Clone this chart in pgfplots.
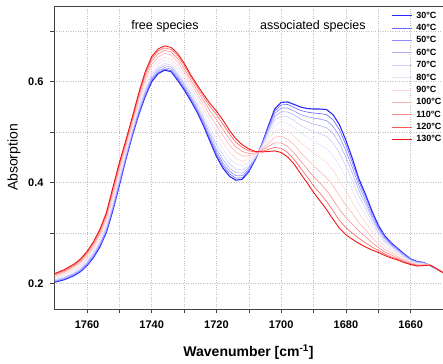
\documentclass[border=0pt]{standalone}
\usepackage{fontspec}
\setmainfont{Liberation Sans}
\usepackage{pgfplots}
\pgfplotsset{compat=1.18}
\usepackage{pgfplotstable}

\definecolor{cA}{RGB}{40,40,255}
\definecolor{cB}{RGB}{100,100,255}
\definecolor{cC}{RGB}{140,140,255}
\definecolor{cD}{RGB}{175,175,255}
\definecolor{cE}{RGB}{205,205,255}
\definecolor{cF}{RGB}{228,228,252}
\definecolor{cG}{RGB}{255,215,215}
\definecolor{cH}{RGB}{255,180,180}
\definecolor{cI}{RGB}{255,140,140}
\definecolor{cJ}{RGB}{255,90,90}
\definecolor{cK}{RGB}{240,20,20}

\pgfplotstableread{
x    t30  t40  t50  t60  t70  t80  t90  t100 t110 t120 t130
1770 .203 .204 .205 .206 .208 .210 .212 .215 .217 .219 .220
1767 .208 .209 .210 .212 .213 .216 .219 .222 .224 .226 .228
1764 .216 .217 .219 .220 .222 .225 .228 .232 .235 .237 .239
1762 .224 .225 .227 .228 .231 .234 .237 .241 .244 .247 .249
1760 .236 .237 .239 .241 .244 .247 .251 .255 .259 .262 .264
1758 .252 .254 .255 .258 .260 .264 .268 .273 .277 .281 .283
1756 .273 .275 .277 .279 .282 .287 .292 .297 .301 .305 .308
1754 .302 .304 .306 .309 .313 .317 .323 .329 .334 .338 .341
1752 .345 .347 .350 .353 .357 .363 .369 .376 .382 .387 .391
1750 .395 .397 .400 .403 .407 .413 .419 .426 .431 .436 .440
1748 .446 .448 .450 .453 .456 .461 .466 .472 .477 .481 .484
1746 .493 .495 .497 .500 .503 .507 .513 .518 .523 .527 .530
1744 .535 .537 .540 .543 .547 .552 .558 .564 .570 .575 .578
1742 .571 .573 .576 .580 .584 .590 .597 .604 .611 .616 .620
1740 .600 .603 .606 .609 .614 .620 .627 .634 .641 .646 .650
1738 .616 .618 .621 .625 .629 .635 .642 .649 .656 .661 .665
1736 .623 .625 .628 .632 .636 .642 .648 .656 .662 .667 .671
1734 .620 .622 .625 .629 .633 .639 .645 .653 .659 .664 .668
1732 .603 .606 .609 .613 .617 .624 .631 .639 .646 .652 .656
1730 .584 .587 .590 .594 .598 .605 .612 .620 .627 .633 .637
1728 .563 .566 .569 .572 .577 .583 .590 .598 .604 .610 .614
1726 .540 .543 .546 .550 .555 .561 .569 .577 .584 .590 .594
1724 .513 .516 .520 .524 .530 .537 .546 .555 .563 .570 .575
1722 .482 .486 .490 .496 .502 .511 .522 .533 .543 .551 .557
1720 .452 .457 .462 .468 .476 .487 .500 .513 .525 .535 .542
1718 .429 .434 .439 .446 .455 .466 .479 .494 .506 .516 .524
1716 .413 .418 .423 .429 .438 .448 .461 .475 .487 .497 .504
1714 .405 .409 .414 .420 .427 .437 .448 .461 .471 .480 .487
1712 .407 .410 .414 .419 .425 .434 .443 .453 .462 .470 .475
1710 .422 .424 .427 .430 .434 .440 .446 .453 .458 .463 .467
1708 .446 .447 .448 .449 .450 .452 .454 .457 .459 .461 .462
1706 .476 .475 .474 .473 .472 .470 .468 .466 .464 .462 .461
1704 .512 .510 .507 .503 .499 .493 .486 .478 .472 .466 .462
1702 .546 .542 .537 .531 .524 .514 .502 .490 .479 .470 .463
1700 .559 .554 .548 .541 .532 .520 .507 .492 .479 .468 .460
1698 .560 .555 .548 .540 .531 .517 .502 .486 .472 .460 .451
1696 .555 .549 .542 .534 .523 .509 .492 .475 .459 .446 .437
1694 .550 .543 .535 .526 .514 .499 .480 .460 .443 .429 .418
1692 .547 .540 .531 .521 .507 .490 .469 .447 .428 .412 .400
1690 .546 .538 .528 .516 .501 .482 .459 .434 .412 .394 .381
1688 .546 .537 .526 .513 .497 .475 .450 .422 .399 .379 .364
1686 .545 .535 .523 .509 .492 .468 .440 .410 .385 .363 .347
1684 .535 .525 .512 .498 .479 .454 .425 .394 .367 .345 .328
1682 .515 .505 .492 .478 .459 .434 .405 .374 .347 .325 .310
1680 .484 .475 .463 .450 .433 .410 .383 .355 .331 .311 .297
1678 .448 .440 .430 .419 .404 .385 .362 .339 .318 .300 .288
1676 .408 .402 .394 .385 .373 .358 .340 .321 .305 .290 .280
1674 .378 .373 .366 .359 .350 .337 .322 .307 .293 .281 .273
1672 .345 .341 .336 .331 .324 .315 .304 .292 .282 .273 .267
1670 .316 .313 .310 .306 .301 .295 .287 .279 .272 .266 .262
1668 .295 .293 .291 .288 .284 .280 .274 .268 .263 .259 .256
1666 .281 .280 .278 .276 .273 .269 .265 .261 .257 .253 .251
1664 .270 .269 .267 .266 .264 .261 .258 .254 .251 .249 .247
1662 .259 .258 .257 .256 .254 .252 .250 .247 .245 .243 .242
1660 .249 .248 .248 .247 .246 .245 .243 .242 .240 .239 .238
1658 .244 .244 .243 .242 .242 .240 .239 .238 .237 .236 .235
1656 .242 .242 .241 .241 .240 .240 .239 .238 .237 .236 .236
1654 .236 .236 .236 .236 .236 .237 .237 .237 .237 .237 .237
1652 .229 .229 .229 .229 .229 .229 .230 .230 .230 .230 .230
1650 .222 .222 .222 .222 .222 .222 .222 .222 .222 .222 .222
}\spectra

\begin{document}
\begin{tikzpicture}
\begin{axis}[
  scale only axis, width=389pt, height=303pt,
  x dir=reverse, xmin=1650, xmax=1770.2, ymin=0.15, ymax=0.75,
  axis x line*=box, axis y line*=left,
  xtick={1660,1680,...,1760}, minor xtick={1670,1690,...,1750},
  ytick={0.2,0.4,0.6}, minor ytick={0.3,0.5,0.7},
  xtick pos=bottom, ytick pos=left,
  tick align=outside,
  major tick length=4pt, minor tick length=4pt,
  grid=both,
  major grid style={gray!50, dotted, line width=0.5pt},
  minor grid style={gray!50, dotted, line width=0.5pt},
  axis line style={black!75, line width=0.8pt},
  every tick/.style={black!75, line width=0.6pt},
  tick label style={font=\fontsize{11}{13}\selectfont\bfseries},
  /pgf/number format/assume math mode=true,
  /pgf/number format/1000 sep={},
  xticklabel style={yshift=-4pt},
  yticklabel style={xshift=-3pt, /pgf/number format/fixed, /pgf/number format/precision=1, /pgf/number format/fixed zerofill},
  xlabel={Wavenumber [cm\textsuperscript{-1}]},
  xlabel style={font=\fontsize{14}{16}\selectfont\bfseries, at={(axis description cs:0.5,-0.1419)}, anchor=center},
  ylabel={Absorption},
  ylabel style={font=\fontsize{14}{16}\selectfont, at={(axis description cs:-0.1028,0.5)}, anchor=center},
  legend style={at={(rel axis cs:0.868,0.988)}, anchor=north west, draw=none, fill=none,
    font=\fontsize{9}{10}\selectfont\bfseries, row sep=0.6pt, column sep=1.5pt, inner sep=0pt},
  legend cell align=left,
  legend image code/.code={\draw[line width=1pt, #1] (0pt,0pt) -- (20pt,0pt);},
]
\addplot[cA, line width=1.1pt] table[x=x,y=t30]{\spectra}; \addlegendentry{30°C}
\addplot[cB, line width=0.6pt] table[x=x,y=t40]{\spectra}; \addlegendentry{40°C}
\addplot[cC, line width=0.6pt] table[x=x,y=t50]{\spectra}; \addlegendentry{50°C}
\addplot[cD, line width=0.6pt] table[x=x,y=t60]{\spectra}; \addlegendentry{60°C}
\addplot[cE, line width=0.6pt] table[x=x,y=t70]{\spectra}; \addlegendentry{70°C}
\addplot[cF, line width=0.6pt] table[x=x,y=t80]{\spectra}; \addlegendentry{80°C}
\addplot[cG, line width=0.6pt] table[x=x,y=t90]{\spectra}; \addlegendentry{90°C}
\addplot[cH, line width=0.6pt] table[x=x,y=t100]{\spectra}; \addlegendentry{100°C}
\addplot[cI, line width=0.6pt] table[x=x,y=t110]{\spectra}; \addlegendentry{110°C}
\addplot[cJ, line width=0.6pt] table[x=x,y=t120]{\spectra}; \addlegendentry{120°C}
\addplot[cK, line width=0.9pt] table[x=x,y=t130]{\spectra}; \addlegendentry{130°C}
\node[font=\fontsize{12.5}{14}\selectfont] at (axis cs:1735.9,0.709) {free species};
\node[font=\fontsize{12.5}{14}\selectfont] at (axis cs:1690.2,0.709) {associated species};
\end{axis}
\pgfresetboundingbox
\path[use as bounding box] ([xshift=-54pt,yshift=-54pt]current axis.south west) rectangle ([yshift=6pt]current axis.north east);
\end{tikzpicture}
\end{document}
